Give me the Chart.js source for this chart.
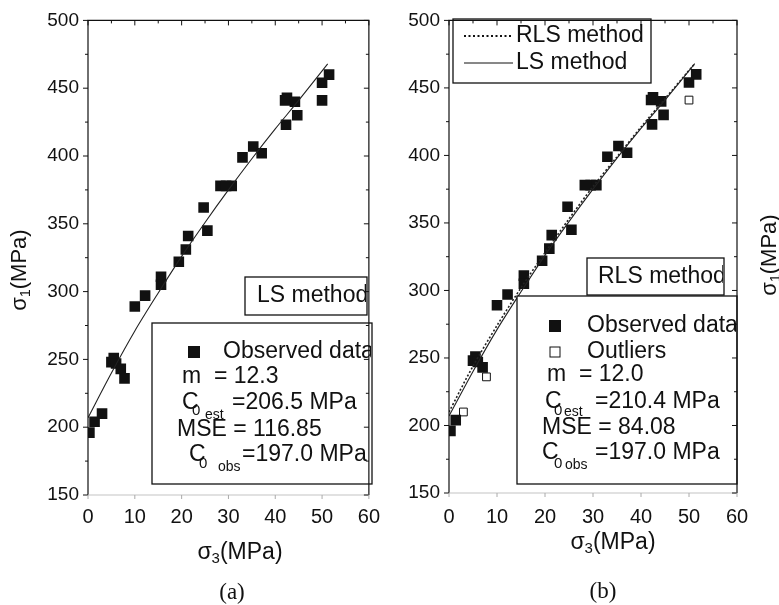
<!DOCTYPE html>
<html>
<head>
<meta charset="utf-8">
<script src="https://cdn.jsdelivr.net/npm/chart.js@4.4.0/dist/chart.umd.min.js"></script>
<style>
body { margin: 0; background: #fff; width: 779px; height: 605px; overflow: hidden; position: relative; }
canvas { position: absolute; top: 0; }
#chartA { left: 0; }
#chartB { left: 390px; }
</style>
</head>
<body>
<canvas id="chartA" width="390" height="605"></canvas>
<canvas id="chartB" width="389" height="605"></canvas>
<script>
// observed data (sigma3, sigma1) in MPa
var sigma3 = [0.3, 1.4, 3.0, 5.0, 5.5, 6.0, 7.0, 7.8, 10.0, 12.2, 15.6, 15.6, 19.4, 20.9, 21.4, 24.7, 25.5,
  28.3, 29.5, 30.7, 33.0, 35.3, 37.1, 42.1, 42.5, 42.3, 44.2, 44.7, 50.0, 50.0, 51.5];
var sigma1 = [196, 204, 210, 248, 251, 247, 243, 236, 289, 297, 311, 305, 322, 331, 341, 362, 345,
  378, 378, 378, 399, 407, 402, 441, 443, 423, 440, 430, 441, 454, 460];
// points flagged as outliers by the RLS fit
var outlier = [0, 0, 1, 0, 0, 0, 0, 1, 0, 0, 0, 0, 0, 0, 0, 0, 0,
  0, 0, 0, 0, 0, 0, 0, 0, 0, 0, 0, 1, 0, 0];

// fitted curves
var curveS3 = [0, 5, 10, 15, 20, 25, 30, 35, 40, 45, 51.2];
var lsCurve = [207, 240, 271, 299, 326, 351, 375, 398, 420, 441, 468];
var rlsCurve = [210, 244, 274, 302, 328, 353, 377, 399, 421, 442, 468];

var xTicks = [0, 10, 20, 30, 40, 50, 60];
var yTicks = [150, 200, 250, 300, 350, 400, 450, 500];

var FONT = '"Liberation Sans", Arial, sans-serif';

function pts(xs, ys, keep) {
  var out = [];
  xs.forEach(function (x, i) { if (!keep || keep(i)) out.push({ x: x, y: ys[i] }); });
  return out;
}

function rich(ctx, parts, y) {
  // parts: [text, size, dy, x]
  parts.forEach(function (p) {
    ctx.font = p[1] + 'px ' + FONT;
    ctx.fillText(p[0], p[3], y + p[2]);
  });
}

function flow(ctx, parts, cx, cy) {
  // centred run of text with subscripts: [text, size, dy]
  var w = 0;
  parts.forEach(function (p) { ctx.font = p[1] + 'px ' + FONT; w += ctx.measureText(p[0]).width; });
  var x = cx - w / 2;
  parts.forEach(function (p) {
    ctx.font = p[1] + 'px ' + FONT;
    ctx.fillText(p[0], x, cy + p[2]);
    x += ctx.measureText(p[0]).width;
  });
}

function panel(notes) {
  return {
    id: 'panel',
    afterDatasetsDraw: function (chart) {
      var ctx = chart.ctx, a = chart.chartArea;
      var xs = chart.scales.x, ys = chart.scales.y;
      ctx.save();
      ctx.textBaseline = 'middle';
      ctx.textAlign = 'left';
      ctx.fillStyle = '#111';

      notes.boxes.forEach(function (b) {
        ctx.fillStyle = '#fff';
        ctx.fillRect(b[0], b[1], b[2] - b[0], b[3] - b[1]);
        ctx.strokeStyle = '#111';
        ctx.lineWidth = 1.3;
        ctx.strokeRect(b[0], b[1], b[2] - b[0], b[3] - b[1]);
        ctx.save();
        ctx.beginPath();
        ctx.rect(b[0], b[1], b[2] - b[0] - 1, b[3] - b[1]);
        ctx.clip();
        ctx.fillStyle = '#111';
        b[4].forEach(function (ln) {
          if (ln.mark === 'fill') {
            ctx.fillStyle = '#111';
            ctx.fillRect(ln.mx - 6, ln.y - 6, 12, 12);
          } else if (ln.mark === 'open') {
            ctx.fillStyle = '#fff';
            ctx.fillRect(ln.mx - 5, ln.y - 5, 10, 10);
            ctx.strokeStyle = '#111';
            ctx.lineWidth = 1;
            ctx.strokeRect(ln.mx - 5, ln.y - 5, 10, 10);
            ctx.fillStyle = '#111';
          } else if (ln.mark === 'dot' || ln.mark === 'solid') {
            ctx.strokeStyle = '#111';
            ctx.lineWidth = ln.mark === 'dot' ? 1.8 : 1;
            ctx.setLineDash(ln.mark === 'dot' ? [2, 2.5] : []);
            ctx.beginPath();
            ctx.moveTo(ln.mx, ln.y);
            ctx.lineTo(ln.mx + 49, ln.y);
            ctx.stroke();
            ctx.setLineDash([]);
          }
          rich(ctx, ln.parts, ln.y);
        });
        ctx.restore();
      });

      // frame
      ctx.strokeStyle = '#111';
      ctx.lineWidth = 1.2;
      ctx.beginPath();
      ctx.moveTo(a.left, a.bottom);
      ctx.lineTo(a.left, a.top);
      ctx.lineTo(a.right, a.top);
      ctx.lineTo(a.right, a.bottom);
      ctx.stroke();
      ctx.strokeStyle = '#c4c4c4';
      ctx.beginPath();
      ctx.moveTo(a.left, a.bottom);
      ctx.lineTo(a.right, a.bottom);
      ctx.stroke();

      // ticks
      ctx.strokeStyle = '#111';
      ctx.lineWidth = 1;
      ctx.beginPath();
      yTicks.forEach(function (v, i) {
        var py = ys.getPixelForValue(v);
        ctx.moveTo(a.left - 5, py); ctx.lineTo(a.left, py);
        ctx.moveTo(a.right, py); ctx.lineTo(a.right - 5, py);
        if (i < yTicks.length - 1) {
          var pm = ys.getPixelForValue(v + 25);
          ctx.moveTo(a.left - 3, pm); ctx.lineTo(a.left, pm);
          ctx.moveTo(a.right, pm); ctx.lineTo(a.right - 3, pm);
        }
      });
      xTicks.forEach(function (v, i) {
        var px = xs.getPixelForValue(v);
        ctx.moveTo(px, a.top); ctx.lineTo(px, a.top + 5);
        if (i < xTicks.length - 1) {
          var pm = xs.getPixelForValue(v + 5);
          ctx.moveTo(pm, a.top); ctx.lineTo(pm, a.top + 3);
        }
      });
      ctx.stroke();
      ctx.strokeStyle = '#aaa';
      ctx.beginPath();
      xTicks.forEach(function (v) {
        var px = xs.getPixelForValue(v);
        ctx.moveTo(px, a.bottom); ctx.lineTo(px, a.bottom + 4);
      });
      ctx.stroke();

      // axis titles
      ctx.fillStyle = '#111';
      flow(ctx, [['\u03c3', 23, 0], ['3', 15, 6], ['(MPa)', 23, 0]], notes.xt[0], notes.xt[1]);
      ctx.save();
      ctx.translate(notes.yt[0], notes.yt[1]);
      ctx.rotate(-Math.PI / 2);
      flow(ctx, [['\u03c3', 22, 0], ['1', 14, 6], ['(MPa)', 22, 0]], 0, 0);
      ctx.restore();
      ctx.font = '23px "Liberation Serif", "Times New Roman", serif';
      ctx.textAlign = 'center';
      ctx.fillText(notes.tag, notes.tagPos[0], notes.tagPos[1]);
      ctx.restore();
    }
  };
}

function scales(yW, xH, yPad, xPad) {
  return {
    x: {
      type: 'linear', min: 0, max: 60,
      grid: { display: false, drawTicks: false }, border: { display: false },
      afterBuildTicks: function (s) { s.ticks = xTicks.map(function (v) { return { value: v }; }); },
      afterFit: function (s) { s.height = xH; },
      ticks: { autoSkip: false, maxRotation: 0, padding: xPad, color: '#111', font: { size: 20, family: FONT } }
    },
    y: {
      type: 'linear', min: 150, max: 500,
      grid: { display: false, drawTicks: false }, border: { display: false },
      afterBuildTicks: function (s) { s.ticks = yTicks.map(function (v) { return { value: v }; }); },
      afterFit: function (s) { s.width = yW; },
      ticks: { autoSkip: false, padding: yPad, color: '#111', font: { size: 19, family: FONT } }
    }
  };
}

var common = {
  responsive: false,
  animation: false,
  events: [],
  plugins: { legend: { display: false }, tooltip: { enabled: false } }
};

// (a) LS method
new Chart(document.getElementById('chartA').getContext('2d'), {
  type: 'scatter',
  data: {
    datasets: [{
      label: 'LS method',
      data: pts(curveS3, lsCurve),
      showLine: true, borderColor: '#222', borderWidth: 1.1, pointRadius: 0, tension: 0.3
    }, {
      label: 'Observed data',
      data: pts(sigma3, sigma1),
      pointStyle: 'rect', pointRadius: 7.5, backgroundColor: '#111', borderWidth: 0
    }]
  },
  options: Object.assign({}, common, {
    layout: { padding: { top: 18, right: 13, left: 0, bottom: 0 } },
    scales: scales(88, 110, 9, 10)
  }),
  plugins: [panel({
    xt: [240, 553], yt: [20, 270], tag: '(a)', tagPos: [232, 593],
    boxes: [
      [245, 277, 367, 315, [
        { y: 296, parts: [['LS method', 23, 0, 257]] }
      ]],
      [152, 323, 372, 484, [
        { y: 352, mark: 'fill', mx: 194, parts: [['Observed data', 23, 0, 223]] },
        { y: 377, parts: [['m  = 12.3', 23, 0, 182]] },
        { y: 403, parts: [['C', 23, 0, 182], ['0', 15, 8, 192], ['est', 14, 12, 205], ['=206.5 MPa', 23, 0, 232]] },
        { y: 430, parts: [['MSE = 116.85', 23, 0, 177]] },
        { y: 455, parts: [['C', 23, 0, 189], ['0', 15, 9, 199], ['obs', 14, 12, 218], ['=197.0 MPa', 23, 0, 242]] }
      ]]
    ]
  })]
});

// (b) RLS method
new Chart(document.getElementById('chartB').getContext('2d'), {
  type: 'scatter',
  data: {
    datasets: [{
      label: 'RLS method',
      data: pts(curveS3, rlsCurve),
      showLine: true, borderColor: '#222', borderWidth: 1.6, borderDash: [2, 2], pointRadius: 0, tension: 0.3
    }, {
      label: 'LS method',
      data: pts(curveS3, lsCurve),
      showLine: true, borderColor: '#222', borderWidth: 1.1, pointRadius: 0, tension: 0.3
    }, {
      label: 'Observed data',
      data: pts(sigma3, sigma1, function (i) { return !outlier[i]; }),
      pointStyle: 'rect', pointRadius: 7.5, backgroundColor: '#111', borderWidth: 0
    }, {
      label: 'Outliers',
      data: pts(sigma3, sigma1, function (i) { return outlier[i]; }),
      pointStyle: 'rect', pointRadius: 5.5, backgroundColor: '#fff', borderColor: '#111', borderWidth: 1
    }]
  },
  options: Object.assign({}, common, {
    layout: { padding: { top: 16, right: 42, left: 0, bottom: 0 } },
    scales: scales(59, 112, 9, 12)
  }),
  plugins: [panel({
    xt: [223, 543], yt: [380, 255], tag: '(b)', tagPos: [213, 592],
    boxes: [
      [63, 19, 261, 83, [
        { y: 36, mark: 'dot', mx: 74, parts: [['RLS method', 23, 0, 126]] },
        { y: 63, mark: 'solid', mx: 74, parts: [['LS method', 23, 0, 126]] }
      ]],
      [197, 258, 334, 295, [
        { y: 277, parts: [['RLS method', 23, 0, 208]] }
      ]],
      [127, 296, 347, 484, [
        { y: 326, mark: 'fill', mx: 165, parts: [['Observed data', 23, 0, 197]] },
        { y: 352, mark: 'open', mx: 165, parts: [['Outliers', 23, 0, 197]] },
        { y: 375, parts: [['m  = 12.0', 23, 0, 157]] },
        { y: 402, parts: [['C', 23, 0, 155], ['0', 15, 9, 164], ['est', 14, 10, 174], ['=210.4 MPa', 23, 0, 205]] },
        { y: 428, parts: [['MSE = 84.08', 23, 0, 152]] },
        { y: 453, parts: [['C', 23, 0, 152], ['0', 15, 11, 164], ['obs', 14, 12, 175], ['=197.0 MPa', 23, 0, 205]] }
      ]]
    ]
  })]
});
</script>
</body>
</html>
